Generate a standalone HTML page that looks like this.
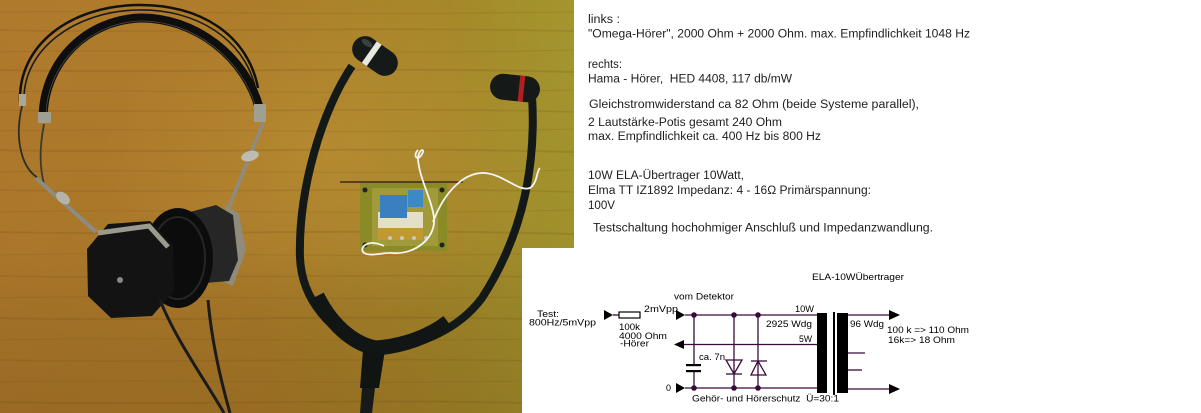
<!DOCTYPE html>
<html><head><meta charset="utf-8">
<style>
html,body{margin:0;padding:0;background:#fff;}
body{width:1201px;height:413px;overflow:hidden;}
svg{display:block;}
.t{font-family:"Liberation Sans","DejaVu Sans",sans-serif;font-size:11.5px;fill:#1e1e1e;white-space:pre;}
.d{font-family:"Liberation Sans","DejaVu Sans",sans-serif;font-size:9.3px;fill:#000;white-space:pre;}
</style></head>
<body>
<svg width="1201" height="413" viewBox="0 0 1201 413" xmlns="http://www.w3.org/2000/svg">
<defs>
<clipPath id="pc"><polygon points="0,0 574,0 574,248 522,248 522,413 0,413"/></clipPath>
<linearGradient id="wood" x1="0" y1="0" x2="1" y2="0">
<stop offset="0" stop-color="#b07a2c"/>
<stop offset="0.45" stop-color="#ad7d2a"/>
<stop offset="0.8" stop-color="#a6892a"/>
<stop offset="1" stop-color="#a3962e"/>
</linearGradient>
<linearGradient id="woodv" x1="0" y1="0" x2="0" y2="1">
<stop offset="0" stop-color="#000" stop-opacity="0"/>
<stop offset="0.6" stop-color="#000" stop-opacity="0.03"/>
<stop offset="1" stop-color="#3a2000" stop-opacity="0.18"/>
</linearGradient>
<radialGradient id="lite" cx="0.58" cy="0.38" r="0.4">
<stop offset="0" stop-color="#d0a040" stop-opacity="0.35"/>
<stop offset="1" stop-color="#d0a040" stop-opacity="0"/>
</radialGradient>
</defs>

<!-- PHOTO -->
<g clip-path="url(#pc)">
<rect x="0" y="0" width="574" height="413" fill="url(#wood)"/>
<rect x="0" y="0" width="574" height="413" fill="url(#lite)"/>
<rect x="0" y="0" width="574" height="413" fill="url(#woodv)"/>
<g stroke="#6a4510" fill="none" opacity="0.16">
<path d="M0,12 C120,10 260,16 574,12" stroke-width="1"/>
<path d="M0,30 C150,34 300,26 574,31" stroke-width="1.5"/>
<path d="M0,52 C140,48 330,56 574,50" stroke-width="1"/>
<path d="M0,70 C180,74 350,66 574,72" stroke-width="2"/>
<path d="M0,92 C120,88 300,96 574,90" stroke-width="1"/>
<path d="M0,110 C200,114 380,106 574,112" stroke-width="1.5"/>
<path d="M0,131 C150,127 330,135 574,129" stroke-width="1"/>
<path d="M0,150 C160,154 360,146 574,152" stroke-width="2"/>
<path d="M0,172 C140,168 320,176 574,170" stroke-width="1"/>
<path d="M0,190 C200,194 380,186 574,192" stroke-width="1.5"/>
<path d="M0,212 C150,208 330,216 574,210" stroke-width="1"/>
<path d="M0,232 C170,236 350,228 574,234" stroke-width="2"/>
<path d="M0,255 C140,251 330,259 574,253" stroke-width="1"/>
<path d="M0,276 C190,280 370,272 574,278" stroke-width="1.5"/>
<path d="M0,298 C150,294 330,302 574,296" stroke-width="1"/>
<path d="M0,318 C170,322 350,314 574,320" stroke-width="2"/>
<path d="M0,340 C140,336 320,344 574,338" stroke-width="1"/>
<path d="M0,360 C200,364 380,356 574,362" stroke-width="1.5"/>
<path d="M0,382 C150,378 330,386 574,380" stroke-width="1"/>
<path d="M0,402 C170,406 350,398 574,404" stroke-width="2"/>
</g>

<!-- headphone headband -->
<path d="M20,102 C18,45 70,6 138,5 C200,4 248,35 258,88" stroke="#111" stroke-width="2.5" fill="none"/>
<path d="M24,100 C23,50 74,11 138,10 C197,9 243,39 255,86" stroke="#1a1a1a" stroke-width="1.6" fill="none"/>
<path d="M43,118 C44,60 88,20 140,18 C192,17 248,55 261,115" stroke="#0e0e0e" stroke-width="9" fill="none"/>
<path d="M46,114 C48,62 90,23 140,21 C190,20 244,57 257,112" stroke="#4a4a44" stroke-width="0.8" fill="none"/>
<rect x="19" y="94" width="7" height="12" fill="#a8a89a"/>
<rect x="38" y="112" width="13" height="11" fill="#a0a090"/>
<rect x="254" y="104" width="12" height="18" fill="#a0a090"/>
<path d="M22,106 C14,140 22,168 38,178" stroke="#2e2e26" stroke-width="1.8" fill="none"/>
<path d="M44,124 C39,150 40,168 44,184" stroke="#3a3a30" stroke-width="1.8" fill="none"/>
<line x1="36" y1="178" x2="96" y2="232" stroke="#8c8c82" stroke-width="4"/>
<ellipse cx="63" cy="198" rx="8" ry="5" transform="rotate(40 63 198)" fill="#b4b4aa"/>
<line x1="263" y1="123" x2="227" y2="212" stroke="#8c8c82" stroke-width="3.5"/>
<ellipse cx="250" cy="156" rx="9" ry="5" transform="rotate(-15 250 156)" fill="#bcbcb2"/>
<path d="M224,204 L239,214 L246,250 L233,286 L224,282 L235,250 L230,218 Z" fill="#8f8c7c"/>

<!-- cups -->
<polygon points="190,212 216,205 233,215 238,260 229,281 205,283 190,266" fill="#262626"/>
<ellipse cx="178" cy="258" rx="35" ry="50" fill="#0c0c0c"/>
<ellipse cx="178" cy="258" rx="27" ry="41" fill="none" stroke="#262626" stroke-width="2"/>
<polygon points="108,224 150,221 173,245 174,291 152,316 111,318 88,296 87,249" fill="#131313"/>
<path d="M98,233 L149,226 L168,247" stroke="#9a9a8e" stroke-width="5" fill="none"/>
<circle cx="120" cy="280" r="3" fill="#888"/>
<path d="M160,300 C176,340 205,380 224,413" stroke="#1b1b1b" stroke-width="3" fill="none"/>
<path d="M208,300 C212,345 222,385 230,413" stroke="#1b1b1b" stroke-width="3" fill="none"/>

<!-- stethoscope tubes -->
<path d="M352,66 C322,110 298,190 300,258 C302,300 330,332 372,350" stroke="#131917" stroke-width="8" fill="none"/>
<path d="M532,96 C536,160 526,230 482,298 C458,330 420,346 376,350" stroke="#131917" stroke-width="8" fill="none"/>
<path d="M317,296 C334,330 358,345 376,348 C404,346 430,336 448,322" stroke="#111614" stroke-width="15" fill="none"/>
<path d="M363,350 L385,350 L379,388 L360,388 Z" fill="#101412"/>
<path d="M362,388 L375,388 L372,413 L360,413 Z" fill="#161a18"/>

<!-- earpieces -->
<g transform="translate(375,56) rotate(35)">
<rect x="-25" y="-13" width="50" height="26" rx="13" fill="#151a18"/>
<rect x="-7" y="-13" width="6" height="26" fill="#e8e8e0"/>
<ellipse cx="-14" cy="-6" rx="6" ry="3" fill="#3a403e"/>
</g>
<g transform="translate(515,88) rotate(6)">
<rect x="-25" y="-13" width="50" height="26" rx="13" fill="#151a18"/>
<rect x="4" y="-13" width="5" height="26" fill="#b02020"/>
</g>

<!-- transformer board -->
<line x1="340" y1="182" x2="463" y2="182" stroke="#3a2a10" stroke-width="1.5"/>
<rect x="360" y="183" width="87" height="68" fill="#8a8a26"/>
<rect x="372" y="188" width="66" height="58" fill="#a09a3a"/>
<rect x="378" y="212" width="45" height="18" fill="#e4e0c8"/>
<rect x="378" y="228" width="45" height="12" fill="#c09a30"/>
<rect x="380" y="195" width="27" height="23" fill="#3a80c0"/>
<rect x="408" y="190" width="15" height="17" fill="#3a8ac4"/>
<circle cx="365" cy="190" r="2.5" fill="#222"/>
<circle cx="442" cy="190" r="2.5" fill="#222"/>
<circle cx="365" cy="245" r="2.5" fill="#222"/>
<circle cx="442" cy="245" r="2.5" fill="#222"/>
<g fill="#c8c8c0"><circle cx="390" cy="238" r="2"/><circle cx="402" cy="238" r="2"/><circle cx="414" cy="238" r="2"/><circle cx="426" cy="238" r="2"/></g>
<g stroke="#f4f4f0" stroke-width="1.8" fill="none">
<path d="M418,150 C412,156 418,162 422,154 C426,148 418,148 418,160 C420,180 432,200 434,218 C436,238 415,255 392,253"/>
<path d="M433,222 C445,190 465,172 485,173 C505,175 518,192 530,188 C538,182 536,172 540,168"/>
<path d="M384,246 C368,238 358,248 364,253 C372,257 385,252 392,253"/>
</g>
</g>

<!-- RIGHT TEXT -->
<text class="t" x="588" y="23" textLength="32" lengthAdjust="spacingAndGlyphs">links :</text>
<text class="t" x="588" y="37.5" textLength="382" lengthAdjust="spacingAndGlyphs">"Omega-Hörer", 2000 Ohm + 2000 Ohm. max. Empfindlichkeit 1048 Hz</text>
<text class="t" x="588" y="68" textLength="34" lengthAdjust="spacingAndGlyphs">rechts:</text>
<text class="t" x="588" y="82.5" textLength="204" lengthAdjust="spacingAndGlyphs">Hama - Hörer,  HED 4408, 117 db/mW</text>
<text class="t" x="589" y="108" textLength="330" lengthAdjust="spacingAndGlyphs">Gleichstromwiderstand ca 82 Ohm (beide Systeme parallel),</text>
<text class="t" x="588" y="126" textLength="194" lengthAdjust="spacingAndGlyphs">2 Lautstärke-Potis gesamt 240 Ohm</text>
<text class="t" x="588" y="140" textLength="233" lengthAdjust="spacingAndGlyphs">max. Empfindlichkeit ca. 400 Hz bis 800 Hz</text>
<text class="t" x="588" y="179" textLength="156" lengthAdjust="spacingAndGlyphs">10W ELA-Übertrager 10Watt,</text>
<text class="t" x="588" y="194" textLength="283" lengthAdjust="spacingAndGlyphs">Elma TT IZ1892 Impedanz: 4 - 16Ω Primärspannung:</text>
<text class="t" x="588" y="209" textLength="27" lengthAdjust="spacingAndGlyphs">100V</text>
<text class="t" x="593" y="231.5" textLength="340" lengthAdjust="spacingAndGlyphs">Testschaltung hochohmiger Anschluß und Impedanzwandlung.</text>

<!-- DIAGRAM -->
<g stroke="#3a0a38" stroke-width="1.3" fill="none">
<line x1="613" y1="315" x2="619" y2="315"/>
<line x1="685" y1="315" x2="817" y2="315"/>
<line x1="684" y1="344.5" x2="818" y2="344.5"/>
<line x1="685" y1="388" x2="825" y2="388"/>
<line x1="694" y1="315" x2="694" y2="365"/>
<line x1="694" y1="371" x2="694" y2="388"/>
<line x1="734" y1="315" x2="734" y2="388"/>
<line x1="758" y1="315" x2="758" y2="388"/>
<line x1="840" y1="315" x2="889" y2="315"/>
<line x1="840" y1="389" x2="889" y2="389"/>
<line x1="848" y1="353" x2="865" y2="353"/>
<line x1="848" y1="370" x2="862" y2="370"/>
<polygon points="726,360 742,360 734,374"/>
<line x1="726" y1="374" x2="742" y2="374"/>
<line x1="751" y1="361" x2="767" y2="361"/>
<polygon points="758,361 751,375 766,375"/>
</g>
<rect x="619" y="312" width="21" height="6" fill="none" stroke="#000" stroke-width="1.2"/>
<g fill="#000">
<polygon points="604,310 613,315 604,320"/>
<polygon points="676,310 685,315 676,320"/>
<polygon points="684,340 674,344.5 684,349"/>
<polygon points="676,383 685,388 676,393"/>
<polygon points="889,310 900,315 889,320"/>
<polygon points="889,384 900,389 889,394"/>
<rect x="686" y="364" width="15" height="2.2"/>
<rect x="686" y="370" width="15" height="2.2"/>
<rect x="817" y="313" width="10" height="80"/>
<rect x="833" y="312" width="2" height="83"/>
<rect x="837" y="313" width="11" height="80"/>
</g>
<g fill="#3a0a38">
<circle cx="694" cy="315" r="2.8"/><circle cx="734" cy="315" r="2.8"/><circle cx="758" cy="315" r="2.8"/>
<circle cx="694" cy="388" r="2.8"/><circle cx="734" cy="388" r="2.8"/><circle cx="758" cy="388" r="2.8"/>
</g>
<text class="d" x="812" y="280" textLength="92" lengthAdjust="spacingAndGlyphs">ELA-10WÜbertrager</text>
<text class="d" x="537" y="317" textLength="22" lengthAdjust="spacingAndGlyphs">Test:</text>
<text class="d" x="529" y="325.5" textLength="67" lengthAdjust="spacingAndGlyphs">800Hz/5mVpp</text>
<text class="d" x="644" y="312" textLength="34" lengthAdjust="spacingAndGlyphs">2mVpp</text>
<text class="d" x="619" y="330" textLength="21" lengthAdjust="spacingAndGlyphs">100k</text>
<text class="d" x="619" y="339" textLength="48" lengthAdjust="spacingAndGlyphs">4000 Ohm</text>
<text class="d" x="620" y="346.5" textLength="29" lengthAdjust="spacingAndGlyphs">-Hörer</text>
<text class="d" x="674" y="299.5" textLength="60" lengthAdjust="spacingAndGlyphs">vom Detektor</text>
<text class="d" x="795" y="312" textLength="19" lengthAdjust="spacingAndGlyphs">10W</text>
<text class="d" x="766" y="327" textLength="46" lengthAdjust="spacingAndGlyphs">2925 Wdg</text>
<text class="d" x="799" y="342" textLength="13" lengthAdjust="spacingAndGlyphs">5W</text>
<text class="d" x="699" y="360" textLength="26" lengthAdjust="spacingAndGlyphs">ca. 7n</text>
<text class="d" x="666" y="391" textLength="5" lengthAdjust="spacingAndGlyphs">0</text>
<text class="d" x="850" y="327" textLength="34" lengthAdjust="spacingAndGlyphs">96 Wdg</text>
<text class="d" x="887" y="333" textLength="82" lengthAdjust="spacingAndGlyphs">100 k =&gt; 110 Ohm</text>
<text class="d" x="888" y="343" textLength="67" lengthAdjust="spacingAndGlyphs">16k=&gt; 18 Ohm</text>
<text class="d" x="692" y="401.7" textLength="147" lengthAdjust="spacingAndGlyphs">Gehör- und Hörerschutz  Ü=30:1</text>
</svg>
</body></html>
